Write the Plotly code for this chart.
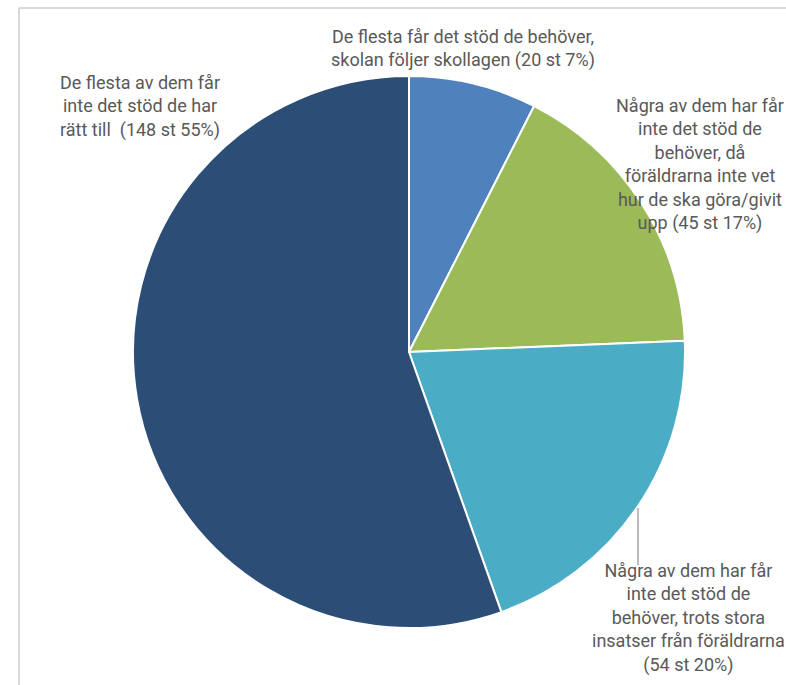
import plotly.graph_objects as go

categories = [
    "De flesta får det stöd de behöver, skolan följer skollagen",
    "Några av dem har får inte det stöd de behöver, då föräldrarna inte vet hur de ska göra/givit upp",
    "Några av dem har får inte det stöd de behöver, trots stora insatser från föräldrarna",
    "De flesta av dem får inte det stöd de har rätt till",
]
counts = [20, 45, 54, 148]
percents = [7, 17, 20, 55]
colors = ["#4F81BD", "#9BBB59", "#4BACC6", "#2C4D75"]

W, H = 786, 685
OX, OY = 0, 0  # body margin removed via post_script
cx, cy, r = 409, 352, 276

def px(x):
    return (x - OX) / W

def py(y):
    return 1 - (y - OY) / H

label_texts = [
    "De flesta får det stöd de behöver,<br>skolan följer skollagen (%d st %d%%)" % (counts[0], percents[0]),
    "Några av dem har får<br>inte det stöd de<br>behöver, då<br>föräldrarna inte vet<br>hur de ska göra/givit<br>upp (%d st %d%%)" % (counts[1], percents[1]),
    "Några av dem har får<br>inte det stöd de<br>behöver, trots stora<br>insatser från föräldrarna<br>(%d st %d%%)" % (counts[2], percents[2]),
    "De flesta av dem får<br>inte det stöd de har<br>rätt till  (%d st %d%%)" % (counts[3], percents[3]),
]
# label anchor positions (page pixels: center x, top y)
label_pos = [(463, 24), (700, 93), (688, 558), (140, 70)]

fig = go.Figure(go.Pie(
    labels=categories,
    values=counts,
    marker=dict(colors=colors, line=dict(color="white", width=2)),
    sort=False,
    direction="clockwise",
    rotation=0,
    textinfo="none",
    hoverinfo="label+value+percent",
    showlegend=False,
    domain=dict(x=[px(cx - r), px(cx + r)], y=[py(cy + r), py(cy - r)]),
))

font = dict(family="Roboto, 'Liberation Sans', sans-serif", size=18, color="#595959")
annotations = []
for t, (x, y) in zip(label_texts, label_pos):
    annotations.append(dict(
        text=t, x=px(x), y=py(y), xref="paper", yref="paper",
        xanchor="center", yanchor="top", showarrow=False, align="center", font=font,
    ))

shapes = [
    dict(type="line", xref="paper", yref="paper", x0=px(19), x1=1.0, y0=py(8), y1=py(8),
         line=dict(color="#D9D9D9", width=2)),
    dict(type="line", xref="paper", yref="paper", x0=px(19), x1=px(19), y0=py(8), y1=0,
         line=dict(color="#D9D9D9", width=2)),
    dict(type="line", xref="paper", yref="paper", x0=px(638), x1=px(638), y0=py(508), y1=py(565),
         line=dict(color="#A6A6A6", width=1.5)),
]

fig.update_layout(
    width=W, height=H,
    margin=dict(l=0, r=0, t=0, b=0),
    paper_bgcolor="white", plot_bgcolor="white",
    annotations=annotations, shapes=shapes,
)
fig.write_html(
    "out.html",
    config={"displayModeBar": False},
    post_script="document.body.style.margin='0';document.body.style.overflow='hidden';",
)
